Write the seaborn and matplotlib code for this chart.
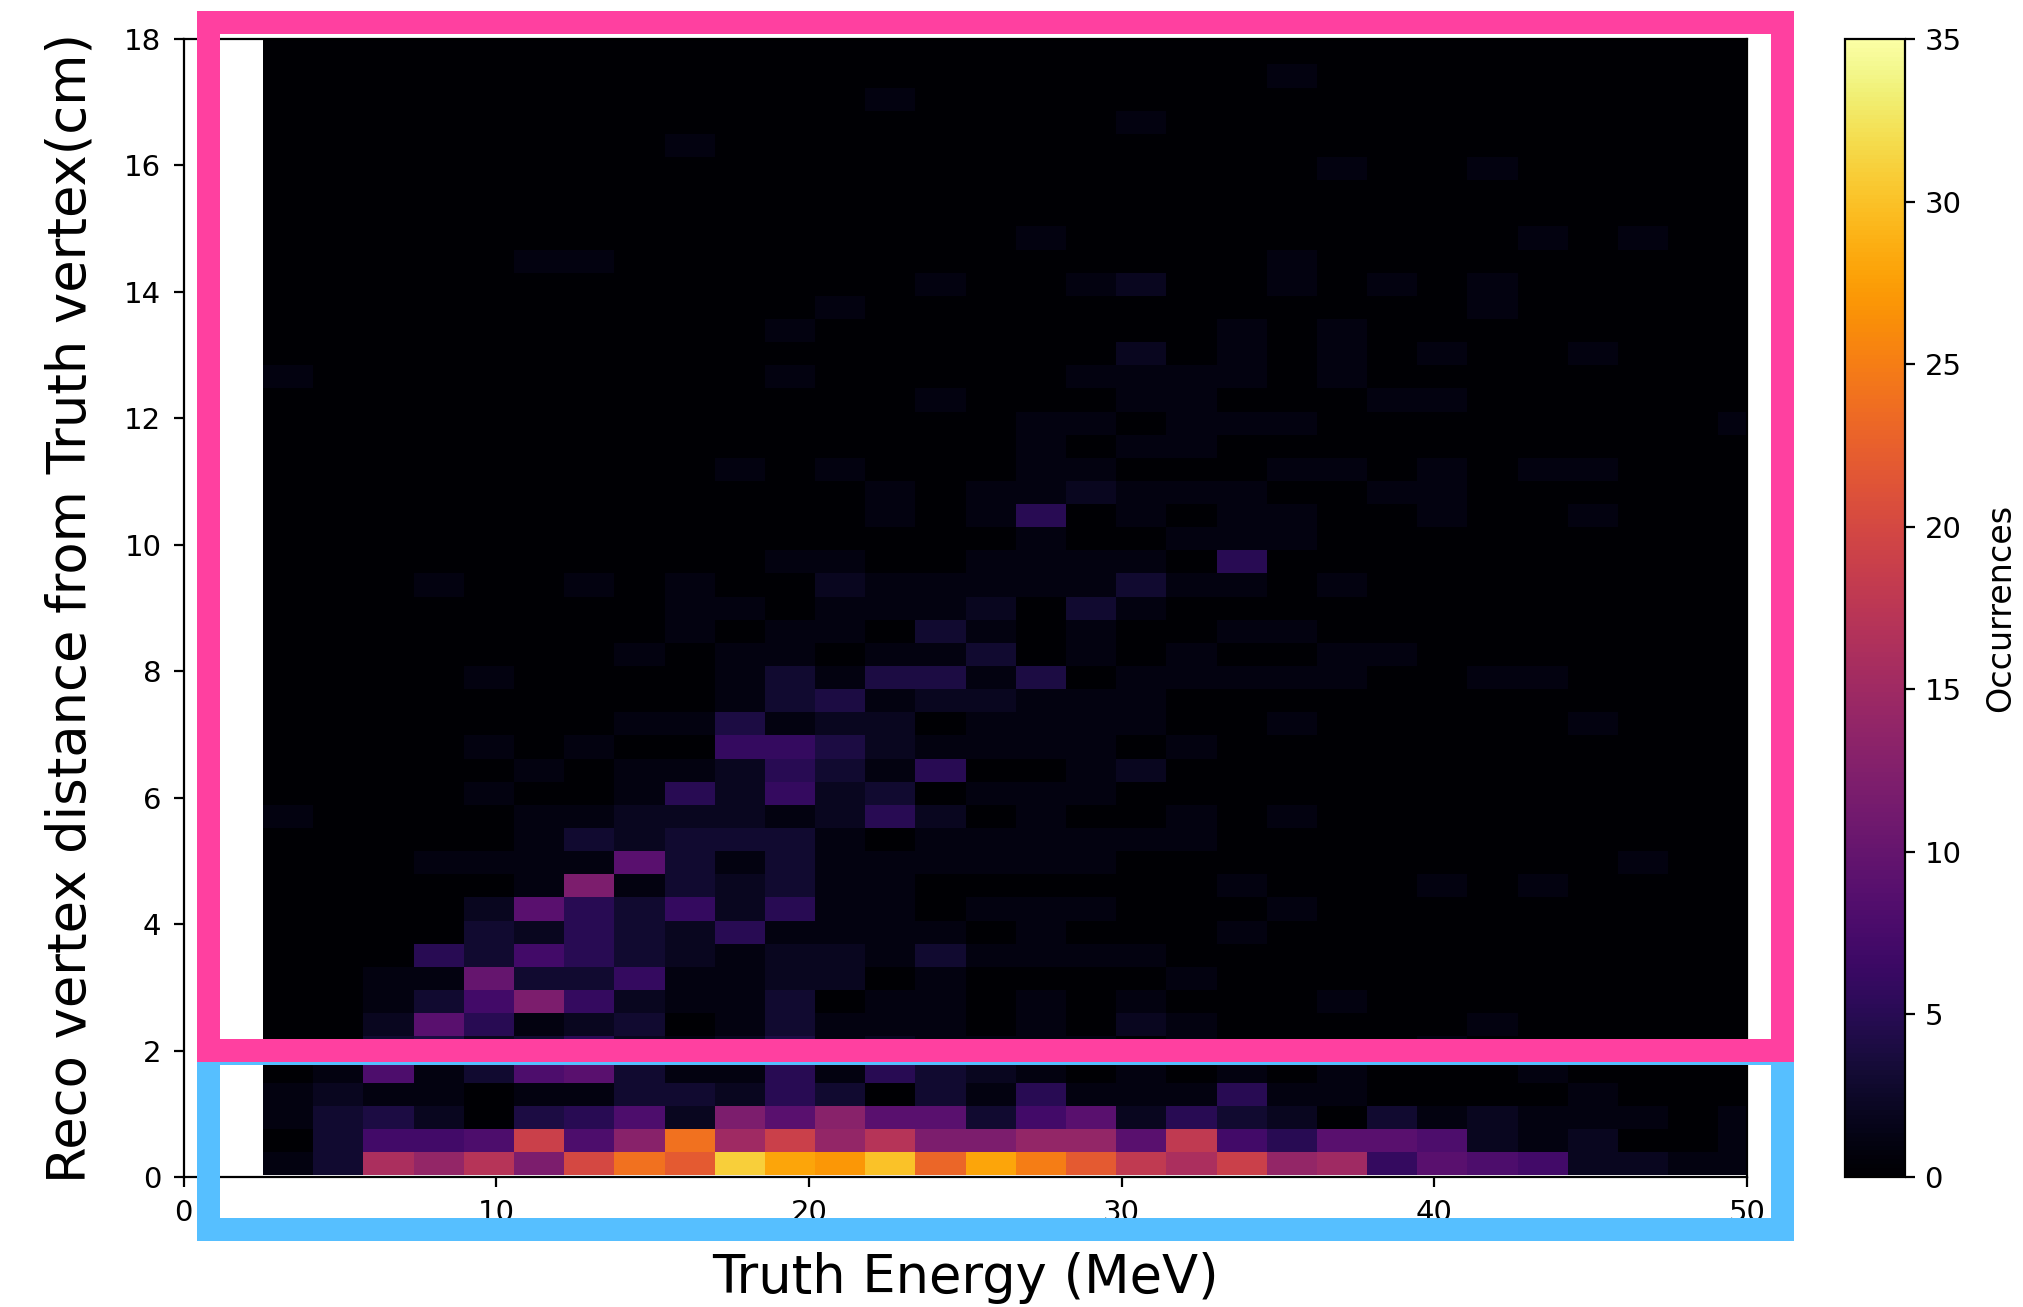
import numpy as np
import pandas as pd
import matplotlib
matplotlib.use("Agg")
import matplotlib.pyplot as plt
import seaborn as sns
from matplotlib.patches import Rectangle

# ---- histogram binning (bin edges of the 2D histogram) ----
x_first_edge = 2.54
x_bin_width = 1.605
n_x_bins = 30
y_first_edge = 0.03
y_bin_height = 0.366
n_y_bins = 50

x_ticks = [0, 10, 20, 30, 40, 50]
y_ticks = [0, 2, 4, 6, 8, 10, 12, 14, 16, 18]
cbar_ticks = [0, 5, 10, 15, 20, 25, 30, 35]

x_label = "Truth Energy (MeV)"
y_label = "Reco vertex distance from Truth vertex(cm)"
cbar_label = "Occurrences"

# ---- counts per y-bin row (row_00 = lowest distance bin), 30 energy bins each ----
row_00 = [1, 3, 16, 14, 17, 12, 20, 24, 22, 31, 28, 27, 30, 23, 28, 25, 22, 18, 16, 19, 14, 15, 6, 9, 8, 7, 2, 2, 1, 1]
row_01 = [0, 3, 7, 7, 8, 19, 8, 13, 24, 15, 19, 14, 17, 12, 12, 14, 14, 9, 18, 7, 5, 9, 9, 8, 2, 1, 2, 0, 0, 1]
row_02 = [1, 3, 4, 2, 0, 4, 5, 8, 2, 12, 9, 13, 9, 9, 3, 7, 9, 2, 5, 3, 2, 0, 3, 1, 2, 1, 1, 1, 0, 1]
row_03 = [1, 2, 1, 1, 0, 1, 1, 3, 3, 2, 5, 3, 0, 3, 1, 5, 1, 1, 1, 5, 1, 1, 0, 0, 0, 0, 1, 0, 0, 0]
row_04 = [0, 1, 8, 1, 3, 8, 9, 3, 1, 1, 5, 1, 5, 3, 2, 1, 0, 1, 0, 1, 0, 1, 0, 0, 0, 1, 0, 0, 0, 0]
row_05 = [0, 0, 3, 4, 2, 3, 5, 2, 1, 2, 4, 1, 2, 1, 1, 1, 1, 0, 1, 0, 0, 0, 0, 1, 0, 0, 0, 0, 0, 0]
row_06 = [0, 0, 2, 9, 5, 1, 2, 3, 0, 1, 3, 1, 1, 1, 0, 1, 0, 2, 1, 0, 0, 0, 0, 0, 1, 0, 0, 0, 0, 0]
row_07 = [0, 0, 1, 3, 7, 12, 6, 2, 1, 1, 3, 0, 1, 1, 0, 1, 0, 1, 0, 0, 0, 1, 0, 0, 0, 0, 0, 0, 0, 0]
row_08 = [0, 0, 1, 1, 10, 3, 3, 6, 1, 1, 2, 2, 0, 1, 0, 0, 0, 0, 1, 0, 0, 0, 0, 0, 0, 0, 0, 0, 0, 0]
row_09 = [0, 0, 0, 5, 3, 7, 5, 3, 2, 1, 2, 2, 1, 3, 1, 1, 1, 1, 0, 0, 0, 0, 0, 0, 0, 0, 0, 0, 0, 0]
row_10 = [0, 0, 0, 0, 3, 2, 5, 3, 2, 5, 1, 1, 1, 1, 0, 1, 0, 0, 0, 1, 0, 0, 0, 0, 0, 0, 0, 0, 0, 0]
row_11 = [0, 0, 0, 0, 2, 9, 5, 3, 6, 2, 5, 1, 1, 0, 1, 1, 1, 0, 0, 0, 1, 0, 0, 0, 0, 0, 0, 0, 0, 0]
row_12 = [0, 0, 0, 0, 0, 1, 12, 1, 3, 2, 3, 1, 1, 0, 0, 0, 0, 0, 0, 1, 0, 0, 0, 1, 0, 1, 0, 0, 0, 0]
row_13 = [0, 0, 0, 1, 1, 1, 1, 9, 3, 1, 3, 1, 1, 1, 1, 1, 1, 0, 0, 0, 0, 0, 0, 0, 0, 0, 0, 1, 0, 0]
row_14 = [0, 0, 0, 0, 0, 1, 3, 2, 3, 3, 3, 1, 0, 1, 1, 1, 1, 1, 1, 0, 0, 0, 0, 0, 0, 0, 0, 0, 0, 0]
row_15 = [1, 0, 0, 0, 0, 1, 1, 2, 2, 2, 1, 2, 5, 2, 0, 1, 0, 0, 1, 0, 1, 0, 0, 0, 0, 0, 0, 0, 0, 0]
row_16 = [0, 0, 0, 0, 1, 0, 0, 1, 5, 2, 6, 2, 3, 0, 1, 1, 1, 0, 0, 0, 0, 0, 0, 0, 0, 0, 0, 0, 0, 0]
row_17 = [0, 0, 0, 0, 0, 1, 0, 1, 1, 2, 5, 3, 1, 5, 0, 0, 1, 2, 0, 0, 0, 0, 0, 0, 0, 0, 0, 0, 0, 0]
row_18 = [0, 0, 0, 0, 1, 0, 1, 0, 0, 6, 6, 4, 2, 1, 1, 1, 1, 0, 1, 0, 0, 0, 0, 0, 0, 0, 0, 0, 0, 0]
row_19 = [0, 0, 0, 0, 0, 0, 0, 1, 1, 4, 1, 2, 2, 0, 1, 1, 1, 1, 0, 0, 1, 0, 0, 0, 0, 0, 1, 0, 0, 0]
row_20 = [0, 0, 0, 0, 0, 0, 0, 0, 0, 1, 3, 4, 1, 2, 2, 1, 1, 1, 0, 0, 0, 0, 0, 0, 0, 0, 0, 0, 0, 0]
row_21 = [0, 0, 0, 0, 1, 0, 0, 0, 0, 1, 3, 1, 4, 4, 1, 4, 0, 1, 1, 1, 1, 1, 0, 0, 1, 1, 0, 0, 0, 0]
row_22 = [0, 0, 0, 0, 0, 0, 0, 1, 0, 1, 1, 0, 1, 1, 3, 0, 1, 0, 1, 0, 0, 1, 1, 0, 0, 0, 0, 0, 0, 0]
row_23 = [0, 0, 0, 0, 0, 0, 0, 0, 1, 0, 1, 1, 0, 3, 1, 0, 1, 0, 0, 1, 1, 0, 0, 0, 0, 0, 0, 0, 0, 0]
row_24 = [0, 0, 0, 0, 0, 0, 0, 0, 1, 1, 0, 1, 1, 1, 2, 0, 3, 1, 0, 0, 0, 0, 0, 0, 0, 0, 0, 0, 0, 0]
row_25 = [0, 0, 0, 1, 0, 0, 1, 0, 1, 0, 0, 2, 1, 1, 1, 1, 1, 3, 1, 1, 0, 1, 0, 0, 0, 0, 0, 0, 0, 0]
row_26 = [0, 0, 0, 0, 0, 0, 0, 0, 0, 0, 1, 1, 0, 0, 1, 1, 1, 1, 0, 5, 0, 0, 0, 0, 0, 0, 0, 0, 0, 0]
row_27 = [0, 0, 0, 0, 0, 0, 0, 0, 0, 0, 0, 0, 0, 0, 0, 1, 0, 0, 1, 1, 1, 0, 0, 0, 0, 0, 0, 0, 0, 0]
row_28 = [0, 0, 0, 0, 0, 0, 0, 0, 0, 0, 0, 0, 1, 0, 1, 5, 0, 1, 0, 1, 1, 0, 0, 1, 0, 0, 1, 0, 0, 0]
row_29 = [0, 0, 0, 0, 0, 0, 0, 0, 0, 0, 0, 0, 1, 0, 1, 1, 2, 1, 1, 1, 0, 0, 1, 1, 0, 0, 0, 0, 0, 0]
row_30 = [0, 0, 0, 0, 0, 0, 0, 0, 0, 1, 0, 1, 0, 0, 0, 1, 1, 0, 0, 0, 1, 1, 0, 1, 0, 1, 1, 0, 0, 0]
row_31 = [0, 0, 0, 0, 0, 0, 0, 0, 0, 0, 0, 0, 0, 0, 0, 1, 0, 1, 1, 0, 0, 0, 0, 0, 0, 0, 0, 0, 0, 0]
row_32 = [0, 0, 0, 0, 0, 0, 0, 0, 0, 0, 0, 0, 0, 0, 0, 1, 1, 0, 1, 1, 1, 0, 0, 0, 0, 0, 0, 0, 0, 1]
row_33 = [0, 0, 0, 0, 0, 0, 0, 0, 0, 0, 0, 0, 0, 1, 0, 0, 0, 1, 1, 0, 0, 0, 1, 1, 0, 0, 0, 0, 0, 0]
row_34 = [1, 0, 0, 0, 0, 0, 0, 0, 0, 0, 1, 0, 0, 0, 0, 0, 1, 1, 1, 1, 0, 1, 0, 0, 0, 0, 0, 0, 0, 0]
row_35 = [0, 0, 0, 0, 0, 0, 0, 0, 0, 0, 0, 0, 0, 0, 0, 0, 0, 2, 0, 1, 0, 1, 0, 1, 0, 0, 1, 0, 0, 0]
row_36 = [0, 0, 0, 0, 0, 0, 0, 0, 0, 0, 1, 0, 0, 0, 0, 0, 0, 0, 0, 1, 0, 1, 0, 0, 0, 0, 0, 0, 0, 0]
row_37 = [0, 0, 0, 0, 0, 0, 0, 0, 0, 0, 0, 1, 0, 0, 0, 0, 0, 0, 0, 0, 0, 0, 0, 0, 1, 0, 0, 0, 0, 0]
row_38 = [0, 0, 0, 0, 0, 0, 0, 0, 0, 0, 0, 0, 0, 1, 0, 0, 1, 2, 0, 0, 1, 0, 1, 0, 1, 0, 0, 0, 0, 0]
row_39 = [0, 0, 0, 0, 0, 1, 1, 0, 0, 0, 0, 0, 0, 0, 0, 0, 0, 0, 0, 0, 1, 0, 0, 0, 0, 0, 0, 0, 0, 0]
row_40 = [0, 0, 0, 0, 0, 0, 0, 0, 0, 0, 0, 0, 0, 0, 0, 1, 0, 0, 0, 0, 0, 0, 0, 0, 0, 1, 0, 1, 0, 0]
row_41 = [0, 0, 0, 0, 0, 0, 0, 0, 0, 0, 0, 0, 0, 0, 0, 0, 0, 0, 0, 0, 0, 0, 0, 0, 0, 0, 0, 0, 0, 0]
row_42 = [0, 0, 0, 0, 0, 0, 0, 0, 0, 0, 0, 0, 0, 0, 0, 0, 0, 0, 0, 0, 0, 0, 0, 0, 0, 0, 0, 0, 0, 0]
row_43 = [0, 0, 0, 0, 0, 0, 0, 0, 0, 0, 0, 0, 0, 0, 0, 0, 0, 0, 0, 0, 0, 1, 0, 0, 1, 0, 0, 0, 0, 0]
row_44 = [0, 0, 0, 0, 0, 0, 0, 0, 1, 0, 0, 0, 0, 0, 0, 0, 0, 0, 0, 0, 0, 0, 0, 0, 0, 0, 0, 0, 0, 0]
row_45 = [0, 0, 0, 0, 0, 0, 0, 0, 0, 0, 0, 0, 0, 0, 0, 0, 0, 1, 0, 0, 0, 0, 0, 0, 0, 0, 0, 0, 0, 0]
row_46 = [0, 0, 0, 0, 0, 0, 0, 0, 0, 0, 0, 0, 1, 0, 0, 0, 0, 0, 0, 0, 0, 0, 0, 0, 0, 0, 0, 0, 0, 0]
row_47 = [0, 0, 0, 0, 0, 0, 0, 0, 0, 0, 0, 0, 0, 0, 0, 0, 0, 0, 0, 0, 1, 0, 0, 0, 0, 0, 0, 0, 0, 0]
row_48 = [0, 0, 0, 0, 0, 0, 0, 0, 0, 0, 0, 0, 0, 0, 0, 0, 0, 0, 0, 0, 0, 0, 0, 0, 0, 0, 0, 0, 0, 0]
row_49 = [0, 0, 0, 0, 0, 0, 0, 0, 0, 0, 0, 0, 0, 0, 0, 0, 0, 0, 0, 0, 0, 0, 0, 0, 0, 0, 0, 0, 0, 0]

rows = [row_00, row_01, row_02, row_03, row_04, row_05, row_06, row_07, row_08, row_09,
        row_10, row_11, row_12, row_13, row_14, row_15, row_16, row_17, row_18, row_19,
        row_20, row_21, row_22, row_23, row_24, row_25, row_26, row_27, row_28, row_29,
        row_30, row_31, row_32, row_33, row_34, row_35, row_36, row_37, row_38, row_39,
        row_40, row_41, row_42, row_43, row_44, row_45, row_46, row_47, row_48, row_49]
counts = np.array(rows, dtype=float)

x_edges = x_first_edge + x_bin_width * np.arange(n_x_bins + 1)
y_edges = y_first_edge + y_bin_height * np.arange(n_y_bins + 1)
x_centers = 0.5 * (x_edges[:-1] + x_edges[1:])
y_centers = 0.5 * (y_edges[:-1] + y_edges[1:])
XX, YY = np.meshgrid(x_centers, y_centers)
df = pd.DataFrame({"energy": XX.ravel(), "dist": YY.ravel(), "n": counts.ravel()})

# ---- figure ----
W, H, DPI = 2024, 1307, 200
fig = plt.figure(figsize=(W / DPI, H / DPI), dpi=DPI)
ax = fig.add_axes([183.6 / W, 1 - 1177 / H, (1747 - 183.6) / W, (1177 - 39) / H])
cax = fig.add_axes([1845 / W, 1 - 1177 / H, 60 / W, (1177 - 39) / H])

sns.histplot(data=df, x="energy", y="dist", weights="n",
             bins=[x_edges, y_edges], thresh=None, cmap="inferno",
             vmin=0, vmax=35, cbar=True, cbar_ax=cax,
             cbar_kws={"ticks": cbar_ticks}, ax=ax)

ax.set_xlim(0, 50)
ax.set_ylim(0, 18)
ax.set_xticks(x_ticks)
ax.set_yticks(y_ticks)
ax.tick_params(labelsize=10.5, pad=4.5)
ax.set_xlabel(x_label, fontsize=19, labelpad=9)
ax.set_ylabel(y_label, fontsize=19, labelpad=10)
cax.tick_params(labelsize=10.5)
cax.set_ylabel(cbar_label, fontsize=12, labelpad=8)

# ---- highlight boxes drawn over the figure ----
lw = 23 * 72 / DPI
def fig_rect(left_px, top_px, right_px, bottom_px, color):
    r = Rectangle((left_px / W, 1 - bottom_px / H), (right_px - left_px) / W,
                  (bottom_px - top_px) / H, transform=fig.transFigure,
                  fill=False, edgecolor=color, linewidth=lw, joinstyle="miter",
                  zorder=10)
    fig.add_artist(r)

fig_rect(207.5, 1052.5, 1782.5, 1229.0, "#56bfff")
fig_rect(207.5, 21.5, 1782.5, 1049.5, "#ff40a0")

fig.savefig("out.png", dpi=DPI)
